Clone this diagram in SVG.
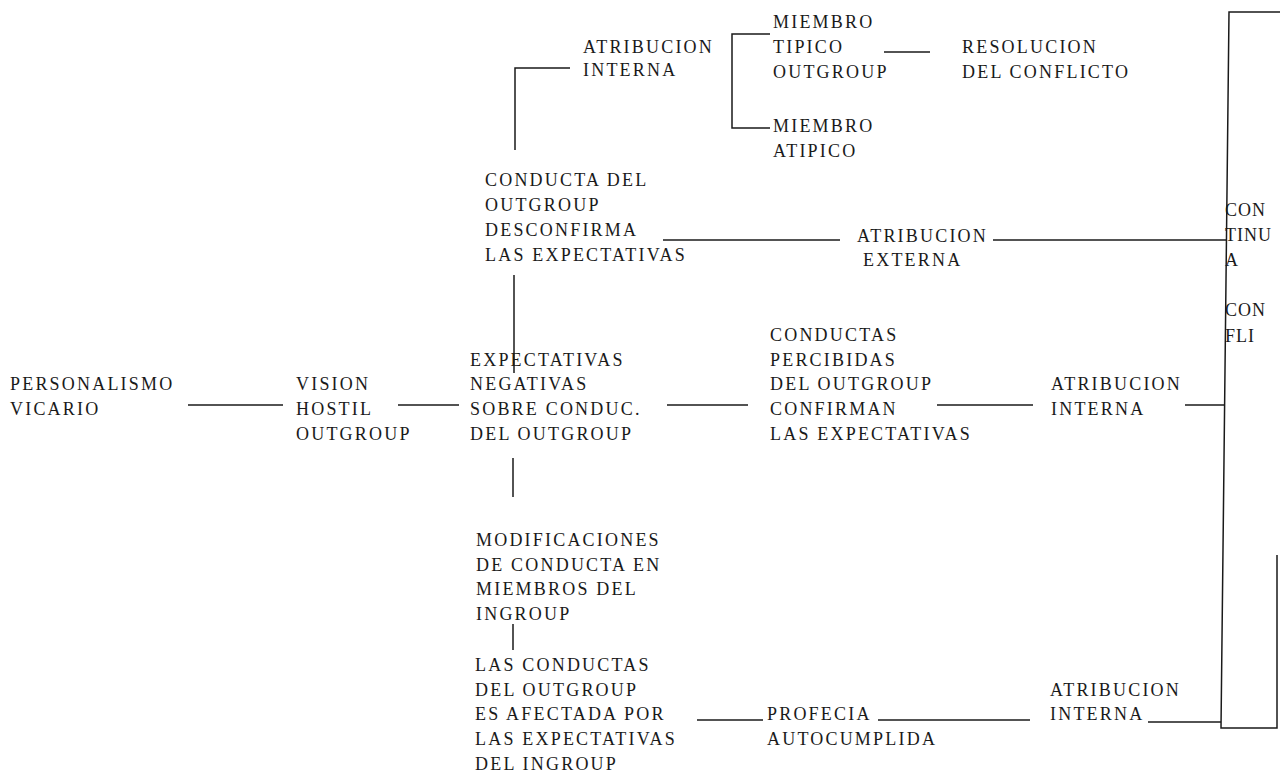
<svg xmlns="http://www.w3.org/2000/svg" width="1280" height="774" viewBox="0 0 1280 774">
<style>
text{font-family:"Liberation Serif","Times New Roman",serif;font-size:18px;letter-spacing:2.2px;fill:#1a1a1a}
.c{stroke:#1a1a1a;stroke-width:1.5;fill:none}
.b{letter-spacing:1px}
</style>
<rect width="1280" height="774" fill="#fff"/>
<g id="connectors">
<line class="c" x1="188" y1="405" x2="283" y2="405"/>
<line class="c" x1="398" y1="405" x2="459" y2="405"/>
<line class="c" x1="667" y1="405" x2="748" y2="405"/>
<line class="c" x1="937" y1="405" x2="1033" y2="405"/>
<line class="c" x1="1185" y1="405" x2="1225" y2="405"/>
<line class="c" x1="514" y1="275" x2="514" y2="373"/>
<line class="c" x1="513" y1="458" x2="513" y2="497"/>
<line class="c" x1="513" y1="624" x2="513" y2="650"/>
<polyline class="c" points="515,150 515,68 570,68"/>
<polyline class="c" points="770,34 732,34 732,128 770,128"/>
<line class="c" x1="884" y1="52" x2="930" y2="52"/>
<line class="c" x1="663" y1="240" x2="840" y2="240"/>
<line class="c" x1="993" y1="240" x2="1226" y2="240"/>
<line class="c" x1="697" y1="720" x2="763" y2="720"/>
<line class="c" x1="878" y1="720" x2="1030" y2="720"/>
<line class="c" x1="1148" y1="722" x2="1221" y2="722"/>
</g>
<g id="n-personalismo"><text x="10" y="390">PERSONALISMO</text><text x="10" y="415">VICARIO</text></g>
<g id="n-vision"><text x="296" y="390">VISION</text><text x="296" y="415">HOSTIL</text><text x="296" y="440">OUTGROUP</text></g>
<g id="n-expectativas"><text x="470" y="366">EXPECTATIVAS</text><text x="470" y="390">NEGATIVAS</text><text x="470" y="415">SOBRE CONDUC.</text><text x="470" y="440">DEL OUTGROUP</text></g>
<g id="n-conductas"><text x="770" y="341">CONDUCTAS</text><text x="770" y="366">PERCIBIDAS</text><text x="770" y="390">DEL OUTGROUP</text><text x="770" y="415">CONFIRMAN</text><text x="770" y="440">LAS EXPECTATIVAS</text></g>
<g id="n-atrib-interna-mid"><text x="1051" y="390">ATRIBUCION</text><text x="1051" y="415">INTERNA</text></g>
<g id="n-desconfirma"><text x="485" y="186">CONDUCTA DEL</text><text x="485" y="211">OUTGROUP</text><text x="485" y="236">DESCONFIRMA</text><text x="485" y="261">LAS EXPECTATIVAS</text></g>
<g id="n-atrib-externa"><text x="857" y="242">ATRIBUCION</text><text x="863" y="266">EXTERNA</text></g>
<g id="n-atrib-interna-top"><text x="583" y="53">ATRIBUCION</text><text x="583" y="76">INTERNA</text></g>
<g id="n-miembro-tipico"><text x="773" y="28">MIEMBRO</text><text x="773" y="53">TIPICO</text><text x="773" y="78">OUTGROUP</text></g>
<g id="n-resolucion"><text x="962" y="53">RESOLUCION</text><text x="962" y="78">DEL CONFLICTO</text></g>
<g id="n-miembro-atipico"><text x="773" y="132">MIEMBRO</text><text x="773" y="157">ATIPICO</text></g>
<g id="n-modificaciones"><text x="476" y="546">MODIFICACIONES</text><text x="476" y="571">DE CONDUCTA EN</text><text x="476" y="595">MIEMBROS DEL</text><text x="476" y="620">INGROUP</text></g>
<g id="n-las-conductas"><text x="475" y="671">LAS CONDUCTAS</text><text x="475" y="696">DEL OUTGROUP</text><text x="475" y="720">ES AFECTADA POR</text><text x="475" y="745">LAS EXPECTATIVAS</text><text x="475" y="770">DEL INGROUP</text></g>
<g id="n-profecia"><text x="767" y="720">PROFECIA</text><text x="767" y="745">AUTOCUMPLIDA</text></g>
<g id="n-atrib-interna-bot"><text x="1050" y="696">ATRIBUCION</text><text x="1050" y="720">INTERNA</text></g>
<g id="n-continua">
<path class="c" d="M1280,12 L1229,12 L1221,728 L1277,728 L1277,555"/>
<text class="b" x="1225" y="216">CON</text><text class="b" x="1225" y="241">TINU</text><text class="b" x="1225" y="266">A</text><text class="b" x="1225" y="316">CON</text><text class="b" x="1225" y="342">FLI</text>
</g>
</svg>
